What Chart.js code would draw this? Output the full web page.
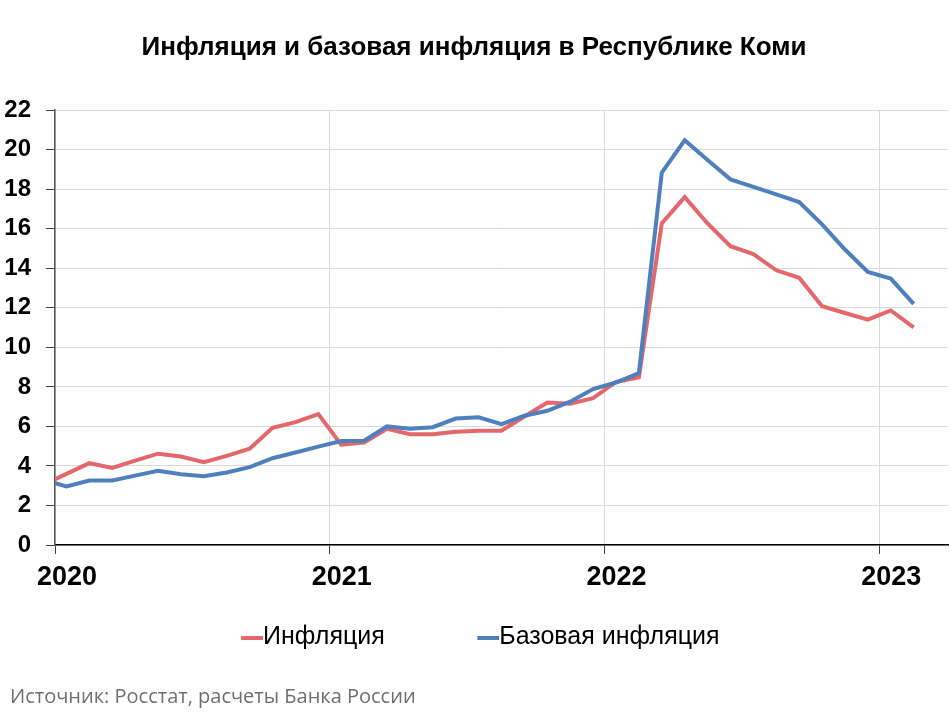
<!DOCTYPE html>
<html>
<head>
<meta charset="utf-8">
<script src="https://cdn.jsdelivr.net/npm/chart.js@4.4.0/dist/chart.umd.min.js"></script>
<style>
  body { margin: 0; background: #fff; }
  #wrap { position: relative; width: 950px; height: 712px; }
  #source { position: absolute; left: 10px; top: 682px; font: 20px 'Open Sans', sans-serif; color: #6f6f6f; }
</style>
</head>
<body>
<div id="wrap">
  <canvas id="chart"></canvas>
  <div id="source">Источник: Росстат, расчеты Банка России</div>
</div>
<script>
// monthly values, % y/y (Dec 2019 is only partly visible at the left edge)
const months = [
  "2019-12",
  "2020-01", "2020-02", "2020-03", "2020-04", "2020-05", "2020-06",
  "2020-07", "2020-08", "2020-09", "2020-10", "2020-11", "2020-12",
  "2021-01", "2021-02", "2021-03", "2021-04", "2021-05", "2021-06",
  "2021-07", "2021-08", "2021-09", "2021-10", "2021-11", "2021-12",
  "2022-01", "2022-02", "2022-03", "2022-04", "2022-05", "2022-06",
  "2022-07", "2022-08", "2022-09", "2022-10", "2022-11", "2022-12",
  "2023-01", "2023-02"
];
const inflation = [
  3.05,
  3.6, 4.14, 3.9, 4.27, 4.62, 4.48, 4.19, 4.51, 4.87, 5.93, 6.22, 6.62,
  5.08, 5.19, 5.88, 5.61, 5.61, 5.73, 5.78, 5.78, 6.5, 7.21, 7.15, 7.43,
  8.25, 8.48, 16.27, 17.6, 16.27, 15.12, 14.72, 13.9, 13.52, 12.08, 11.74, 11.4,
  11.87, 11.01
];
const coreInflation = [
  3.3,
  2.96, 3.26, 3.26, 3.51, 3.75, 3.58, 3.48, 3.67, 3.94, 4.39, 4.68, 4.98,
  5.26, 5.28, 6.0, 5.88, 5.96, 6.4, 6.46, 6.12, 6.54, 6.79, 7.25, 7.89,
  8.22, 8.7, 18.84, 20.48, 19.48, 18.5, 18.12, 17.74, 17.35, 16.22, 14.95, 13.82,
  13.48, 12.2
];
const seriesNames = ["Инфляция", "Базовая инфляция"];
const yearTicks = [0, 12, 24, 36];
const yearLabels = ["2020", "2021", "2022", "2023"];

const RED = "#e4686b";
const BLUE = "#4f7fbd";

// x = months since Jan 1 2020, point in the middle of each month
function toPoints(values) {
  return months.map((m, i) => ({ x: i - 0.5, y: values[i] }));
}

// legend sample: line placed right next to the text
function legendLine(color) {
  const c = document.createElement("canvas");
  c.width = 47;
  c.height = 4;
  const g = c.getContext("2d");
  g.fillStyle = color;
  g.fillRect(25, 0, 22, 4);
  return c;
}

const tickFont = { family: "'Liberation Sans', Arial, sans-serif", weight: "bold" };

new Chart(document.getElementById("chart"), {
  type: "line",
  data: {
    datasets: [
      {
        label: seriesNames[0],
        data: toPoints(inflation),
        borderColor: RED,
        backgroundColor: RED,
        borderWidth: 4,
        pointRadius: 0,
        pointStyle: legendLine(RED),
        order: 1,
        clip: 0
      },
      {
        label: seriesNames[1],
        data: toPoints(coreInflation),
        borderColor: BLUE,
        backgroundColor: BLUE,
        borderWidth: 4,
        pointRadius: 0,
        pointStyle: legendLine(BLUE),
        order: 0,
        clip: 0
      }
    ]
  },
  options: {
    responsive: true,
    maintainAspectRatio: false,
    animation: false,
    layout: { padding: { left: 0, right: 2, top: 0, bottom: 52 } },
    plugins: {
      title: {
        display: true,
        text: "Инфляция и базовая инфляция в Республике Коми",
        color: "#000",
        font: { family: "'Liberation Sans', Arial, sans-serif", size: 26, weight: "bold" },
        padding: { top: 32, bottom: 47 }
      },
      legend: {
        position: "bottom",
        labels: {
          usePointStyle: true,
          pointStyleWidth: 22,
          padding: 80,
          color: "#000",
          font: { family: "'Liberation Sans', Arial, sans-serif", size: 25 },
          sort: (a, b) => a.datasetIndex - b.datasetIndex
        }
      },
      tooltip: { enabled: false }
    },
    scales: {
      x: {
        type: "linear",
        min: 0,
        max: 39,
        afterBuildTicks: (scale) => { scale.ticks = yearTicks.map(v => ({ value: v })); },
        afterFit: (scale) => { scale.height = 0; },
        ticks: {
          autoSkip: false,
          maxRotation: 0,
          mirror: true,
          padding: -49,
          labelOffset: 12,
          color: "#000",
          font: Object.assign({ size: 27 }, tickFont),
          callback: (v) => yearLabels[yearTicks.indexOf(v)]
        },
        grid: { color: "#d9d9d9", tickColor: "#404040", tickLength: 9, lineWidth: 1 },
        border: { color: "#000", width: 1.5 }
      },
      y: {
        min: 0,
        max: 22,
        afterFit: (scale) => { scale.width = 55; },
        ticks: {
          stepSize: 2,
          padding: 15,
          color: "#000",
          font: Object.assign({ size: 24 }, tickFont)
        },
        grid: { color: "#d9d9d9", tickColor: "#404040", tickLength: 9, lineWidth: 1 },
        border: { color: "#595959", width: 1.5 }
      }
    }
  }
});
</script>
</body>
</html>
